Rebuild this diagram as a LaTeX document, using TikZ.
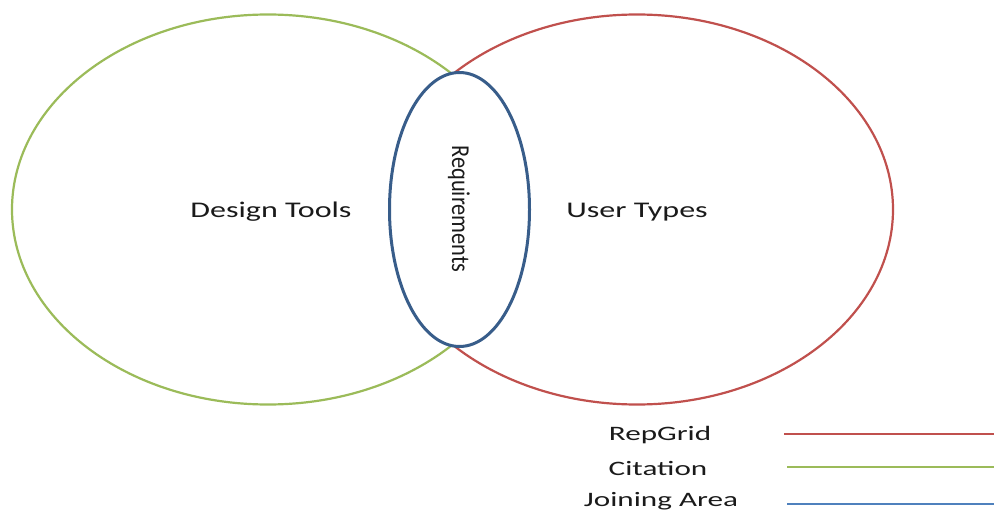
\documentclass[tikz,border=0pt]{standalone}
\usepackage{fontspec}
\usepackage{graphicx}
\setmainfont{Carlito}
\usetikzlibrary{shapes.geometric}
\definecolor{cgreen}{HTML}{9BBB59}
\definecolor{cred}{HTML}{C0504D}
\definecolor{cblue}{HTML}{385D8A}
\definecolor{clblue}{HTML}{4F81BD}
\definecolor{ctext}{HTML}{1A1A1A}
\tikzset{
  circ/.style={ellipse, draw, line width=2.2pt, inner sep=0pt, minimum width=512pt, minimum height=390pt, text=ctext},
  joinarea/.style={ellipse, draw=cblue, line width=3pt, fill=white, inner sep=0pt, minimum width=140pt, minimum height=274pt, text=ctext},
  maintext/.style={font=\fontsize{22.4}{26}\selectfont},
  legtext/.style={font=\fontsize{20.5}{24}\selectfont, text=ctext, inner sep=0pt},
  legline/.style={line width=2pt},
}
\begin{document}
\begin{tikzpicture}[x=1pt,y=-1pt]
\useasboundingbox (0,0) rectangle (994,511);
\node[circ, draw=cred] (user) at (637,209.5) {};
\node[circ, draw=cgreen, fill=white] (design) at (268,209.5) {};
\node[joinarea] (req) at (459.5,209.5) {};
\node[maintext, text=ctext] (dtl) at (271,212) {\scalebox{1.43}[1]{Design Tools}};
\node[maintext, text=ctext] (utl) at (637,212) {\scalebox{1.43}[1]{User Types}};
\node[maintext, text=ctext] (rql) at (459,209) {\scalebox{1.15}[1]{\rotatebox{-90}{Requirements}}};
\node[legtext] (lg1) at (660,435) {\scalebox{1.52}[1]{RepGrid}};
\node[legtext] (lg2) at (658,468) {\scalebox{1.52}[1]{Citation}};
\node[legtext] (lg3) at (661,501) {\scalebox{1.52}[1]{Joining Area}};
\coordinate (r1) at (784,434);
\coordinate (r2) at (994,434);
\coordinate (g1) at (787,467);
\coordinate (g2) at (994,467);
\coordinate (b1) at (787,504);
\coordinate (b2) at (994,504);
\draw[legline, cred] (r1) -- (r2);
\draw[legline, cgreen] (g1) -- (g2);
\draw[legline, clblue] (b1) -- (b2);
\end{tikzpicture}
\end{document}
